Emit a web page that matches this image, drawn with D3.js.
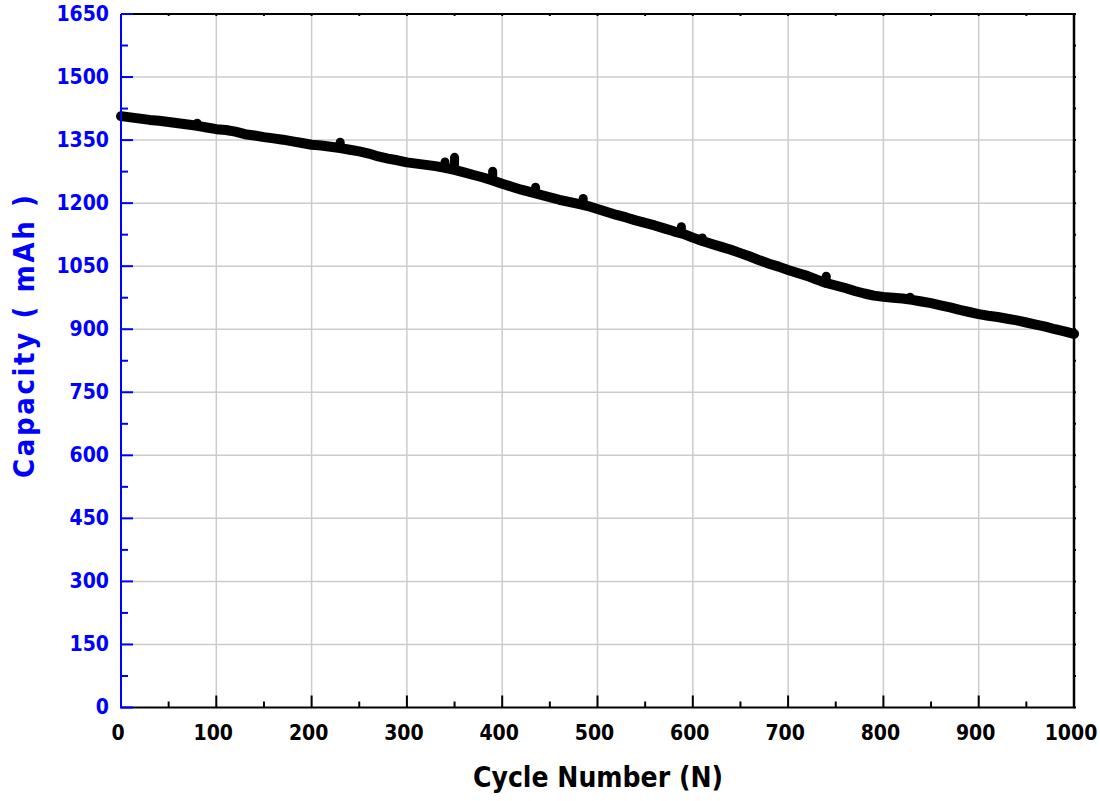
<!DOCTYPE html>
<html><head><meta charset="utf-8">
<script src="https://cdn.jsdelivr.net/npm/d3@7/dist/d3.min.js"></script>
<style>
html,body{margin:0;padding:0;background:#fff;}
svg{display:block;}
.lbl{font-family:"DejaVu Sans Condensed","DejaVu Sans",sans-serif;font-weight:bold;font-stretch:condensed;}
</style></head>
<body>
<svg id="chart" width="1100" height="801"></svg>
<script>
const cycles = d3.range(0, 1001, 10);
const capacity = [
 1407,1404,1401,1398,1396,1393,1390,1387,1384,1380,
 1376,1374,1370,1364,1361,1357,1354,1351,1347,1343,
 1339,1337,1334,1331,1327,1323,1318,1311,1306,1302,
 1297,1294,1291,1288,1284,1279,1273,1267,1261,1254,
 1246,1239,1232,1226,1220,1214,1208,1203,1198,1193,
 1186,1179,1172,1166,1159,1153,1147,1140,1133,1127,
 1118,1110,1103,1096,1089,1081,1073,1064,1056,1049,
 1041,1034,1027,1018,1010,1004,998,991,985,980,
 977,975,973,970,966,962,957,952,946,941,
 936,932,929,925,921,916,911,906,900,895,
 889];
const spikeCycles = [80, 230, 340, 350, 390, 435, 485, 588, 610, 740, 828];
const spikeValues = [1390, 1345, 1298, 1309, 1276, 1238, 1211, 1144, 1117, 1026, 976];

const xTicks = d3.range(0, 1001, 100);
const yTicks = d3.range(0, 1651, 150);
const xMinor = d3.range(50, 1000, 100);
const yMinor = d3.range(75, 1650, 150);

const svg = d3.select("#chart");
const L = 121, R = 1074, T = 14, B = 707.5;
const x = d3.scaleLinear().domain([0, 1000]).range([L, R]);
const y = d3.scaleLinear().domain([0, 1650]).range([B, T]);

// grid
svg.append("g").selectAll("line").data(xTicks.filter(d => d > 0 && d < 1000)).join("line")
  .attr("x1", d => x(d)).attr("x2", d => x(d)).attr("y1", T).attr("y2", B)
  .attr("stroke", "#cccccc").attr("stroke-width", 1.5);
svg.append("g").selectAll("line").data(yTicks.filter(d => d > 0 && d < 1650)).join("line")
  .attr("y1", d => y(d)).attr("y2", d => y(d)).attr("x1", L).attr("x2", R)
  .attr("stroke", "#cccccc").attr("stroke-width", 1.5);

// data line
const pts = cycles.map((c, i) => [c, capacity[i]]);
const line = d3.line().x(d => x(d[0])).y(d => y(d[1]));
svg.append("path").datum(pts).attr("d", line)
  .attr("fill", "none").attr("stroke", "#000").attr("stroke-width", 10)
  .attr("stroke-linejoin", "round").attr("stroke-linecap", "round");
const interp = c => {
  const i = Math.min(Math.floor(c / 10), cycles.length - 2);
  const t = (c - cycles[i]) / 10;
  return capacity[i] * (1 - t) + capacity[i + 1] * t;
};
svg.append("g").selectAll("line").data(spikeCycles).join("line")
  .attr("x1", d => x(d)).attr("x2", d => x(d))
  .attr("y1", d => y(interp(d))).attr("y2", (d, i) => y(spikeValues[i]))
  .attr("stroke", "#000").attr("stroke-width", 9).attr("stroke-linecap", "round");

// frame top/right
svg.append("line").attr("x1", L).attr("x2", R).attr("y1", T).attr("y2", T).attr("stroke", "#000").attr("stroke-width", 2);
svg.append("line").attr("x1", R).attr("x2", R).attr("y1", T).attr("y2", B).attr("stroke", "#000").attr("stroke-width", 2.5);
svg.append("g").selectAll("line").data(xTicks.concat(xMinor)).join("line")
  .attr("x1", d => x(d)).attr("x2", d => x(d)).attr("y1", T).attr("y2", T + 2).attr("stroke", "#000").attr("stroke-width", 2);
svg.append("g").selectAll("line").data(yTicks.concat(yMinor)).join("line")
  .attr("y1", d => y(d)).attr("y2", d => y(d)).attr("x1", R).attr("x2", R + 2).attr("stroke", "#000").attr("stroke-width", 2);

// bottom axis
const gx = svg.append("g");
gx.append("line").attr("x1", L).attr("x2", R + 1).attr("y1", B).attr("y2", B).attr("stroke", "#000").attr("stroke-width", 2);
gx.selectAll(".maj").data(xTicks).join("line").attr("class", "maj")
  .attr("x1", d => x(d)).attr("x2", d => x(d)).attr("y1", B).attr("y2", B - 12).attr("stroke", "#000").attr("stroke-width", 2);
gx.selectAll(".min").data(xMinor).join("line").attr("class", "min")
  .attr("x1", d => x(d)).attr("x2", d => x(d)).attr("y1", B).attr("y2", B - 6).attr("stroke", "#000").attr("stroke-width", 2);
gx.selectAll("text").data(xTicks).join("text").attr("class", "lbl")
  .attr("x", d => x(d) - 3).attr("y", 740).attr("text-anchor", "middle")
  .attr("font-size", 21).attr("fill", "#000").text(d => d);

// left axis
const gy = svg.append("g");
gy.append("line").attr("x1", L).attr("x2", L).attr("y1", T).attr("y2", B + 1).attr("stroke", "#0000ff").attr("stroke-width", 2);
gy.selectAll(".maj").data(yTicks).join("line").attr("class", "maj")
  .attr("x1", L).attr("x2", L + 12).attr("y1", d => y(d)).attr("y2", d => y(d)).attr("stroke", "#0000ff").attr("stroke-width", 2);
gy.selectAll(".min").data(yMinor).join("line").attr("class", "min")
  .attr("x1", L).attr("x2", L + 7).attr("y1", d => y(d)).attr("y2", d => y(d)).attr("stroke", "#0000ff").attr("stroke-width", 2);
gy.selectAll("text").data(yTicks).join("text").attr("class", "lbl")
  .attr("x", 109).attr("y", d => y(d) + 6.5).attr("text-anchor", "end")
  .attr("font-size", 21).attr("fill", "#0000ff").text(d => d);

// titles
svg.append("text").attr("class", "lbl").attr("x", 598).attr("y", 787).attr("text-anchor", "middle")
  .attr("font-size", 28).attr("fill", "#000").text("Cycle Number (N)");
svg.append("text").attr("class", "lbl").attr("transform", "translate(34,336.5) rotate(-90)")
  .attr("text-anchor", "middle").attr("font-size", 29).attr("fill", "#0000ff")
  .attr("textLength", 283).attr("lengthAdjust", "spacing").text("Capacity ( mAh )");
</script>
</body></html>
